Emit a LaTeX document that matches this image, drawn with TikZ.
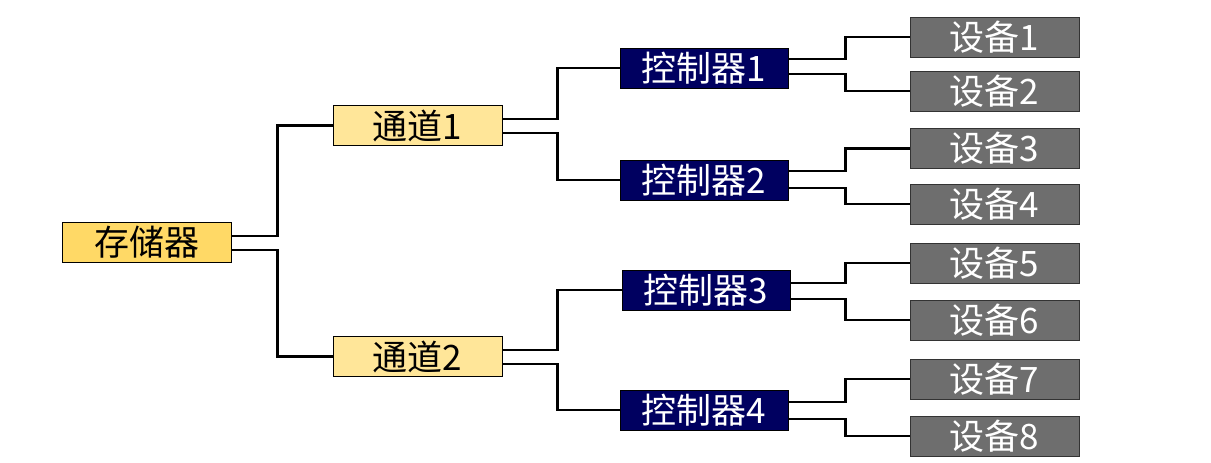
\documentclass[tikz,border=0pt]{standalone}
\usepackage{fontspec}
\newfontfamily\cjk{Noto Sans CJK SC}
\definecolor{memfill}{RGB}{255,217,102}
\definecolor{chfill}{RGB}{255,230,153}
\definecolor{ctlfill}{RGB}{0,0,96}
\definecolor{devfill}{RGB}{110,110,110}
\begin{document}
\begin{tikzpicture}[x=1pt,y=-1pt,
  box/.style={draw=black,line width=0.8pt,minimum width=169pt,minimum height=40pt,inner sep=0pt,font=\cjk\fontsize{35}{35}\selectfont},
  mem/.style={box,fill=memfill,text=black},
  chan/.style={box,fill=chfill,text=black},
  ctl/.style={box,fill=ctlfill,text=white,minimum width=168pt},
  dev/.style={box,fill=devfill,text=white,draw=black!80},
  wire/.style={line width=2.8pt,black}]
\useasboundingbox (0,0) rectangle (1211,463);
\node[mem] (mem) at (146.5,242.5) {存储器};
\node[chan] (c1) at (417.5,125.5) {通道1};
\node[chan] (c2) at (417.5,356.5) {通道2};
\node[ctl] (k1) at (704,68) {控制器1};
\node[ctl] (k2) at (704,180) {控制器2};
\node[ctl] (k3) at (706,290) {控制器3};
\node[ctl] (k4) at (704,410) {控制器4};
\node[dev] (d1) at (994.5,37) {设备1};
\node[dev] (d2) at (994.5,91) {设备2};
\node[dev] (d3) at (994.5,148.5) {设备3};
\node[dev] (d4) at (994.5,204) {设备4};
\node[dev] (d5) at (994.5,263) {设备5};
\node[dev] (d6) at (994.5,320) {设备6};
\node[dev] (d7) at (994.5,379) {设备7};
\node[dev] (d8) at (994.5,436) {设备8};
% memory to channels
\draw[wire] ([yshift=6.5pt]mem.east) -- ++(46,0) |- (c1.west);
\draw[wire] ([yshift=-7.5pt]mem.east) -- ++(46,0) |- (c2.west);
% channels to controllers
\draw[wire] ([yshift=6.5pt]c1.east) -- ++(55,0) |- (k1.west);
\draw[wire] ([yshift=-7.5pt]c1.east) -- ++(55,0) |- (k2.west);
\draw[wire] ([yshift=6.5pt]c2.east) -- ++(55,0) |- (k3.west);
\draw[wire] ([yshift=-7.5pt]c2.east) -- ++(55,0) |- (k4.west);
% controllers to devices
\draw[wire] ([yshift=9pt]k1.east) -- ++(57,0) |- (d1.west);
\draw[wire] ([yshift=-6pt]k1.east) -- ++(57,0) |- (d2.west);
\draw[wire] ([yshift=9pt]k2.east) -- ++(57,0) |- (d3.west);
\draw[wire] ([yshift=-8pt]k2.east) -- ++(57,0) |- (d4.west);
\draw[wire] ([yshift=7pt]k3.east) -- ++(55,0) |- (d5.west);
\draw[wire] ([yshift=-9pt]k3.east) -- ++(55,0) |- (d6.west);
\draw[wire] ([yshift=8pt]k4.east) -- ++(57,0) |- (d7.west);
\draw[wire] ([yshift=-9pt]k4.east) -- ++(57,0) |- (d8.west);
\end{tikzpicture}
\end{document}
